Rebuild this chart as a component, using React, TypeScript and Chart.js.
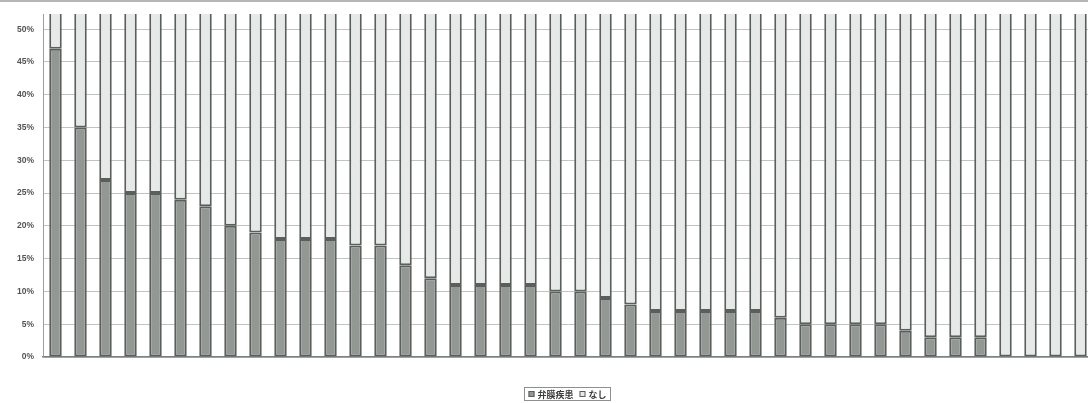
import { useEffect, useRef } from 'react';
import { Chart, registerables } from 'chart.js';

Chart.register(...registerables);

const categories = [
  '1', '2', '3', '4', '5', '6', '7', '8', '9', '10',
  '11', '12', '13', '14', '15', '16', '17', '18', '19', '20',
  '21', '22', '23', '24', '25', '26', '27', '28', '29', '30',
  '31', '32', '33', '34', '35', '36', '37', '38', '39', '40',
  '41', '42',
];

const valveDisease = [
  47, 35, 27, 25, 25, 24, 23, 20, 19, 18,
  18, 18, 17, 17, 14, 12, 11, 11, 11, 11,
  10, 10, 9, 8, 7, 7, 7, 7, 7, 6,
  5, 5, 5, 5, 4, 3, 3, 3, 0, 0,
  0, 0,
];

const noneValues = [
  53, 65, 73, 75, 75, 76, 77, 80, 81, 82,
  82, 82, 83, 83, 86, 88, 89, 89, 89, 89,
  90, 90, 91, 92, 93, 93, 93, 93, 93, 94,
  95, 95, 95, 95, 96, 97, 97, 97, 100, 100,
  100, 100,
];

const seriesLabels = ['弁膜疾患', 'なし'];
const yTickValues = [0, 5, 10, 15, 20, 25, 30, 35, 40, 45, 50];

const COLOR_LOW = '#939895';
const COLOR_HIGH = '#e6e9e7';
const COLOR_BORDER = '#5a5f5c';

const framePlugin = {
  id: 'frameLine',
  beforeDraw(chart: any) {
    const ctx = chart.ctx;
    ctx.save();
    ctx.fillStyle = '#ffffff';
    ctx.fillRect(0, 0, chart.width, chart.height);
    ctx.strokeStyle = '#b3b6b4';
    ctx.lineWidth = 2;
    ctx.beginPath();
    ctx.moveTo(0, 1);
    ctx.lineTo(chart.width, 1);
    ctx.stroke();
    ctx.restore();
  },
};

const legendBoxPlugin = {
  id: 'legendBox',
  afterDraw(chart: any) {
    const ctx = chart.ctx;
    const ds = chart.data.datasets;
    ctx.save();
    ctx.font = 'bold 9px "Noto Sans CJK JP", sans-serif';
    const box = 6;
    const gap = 3;
    const itemGap = 6;
    const pad = 4;
    const widths = ds.map((d: any) => box + gap + ctx.measureText(d.label).width);
    const inner = widths.reduce((a: number, b: number) => a + b, 0) + itemGap * (ds.length - 1);
    const total = inner + pad * 2;
    const cx = (chart.chartArea.left + chart.chartArea.right) / 2 - 1;
    const left = Math.round(cx - total / 2) + 0.5;
    const top = 387.5;
    const h = 13;
    ctx.strokeStyle = '#8c908e';
    ctx.lineWidth = 1;
    ctx.strokeRect(left, top, total, h);
    let x = left + pad;
    const midY = top + h / 2;
    ds.forEach((d: any, i: number) => {
      ctx.fillStyle = d.backgroundColor;
      ctx.fillRect(x, midY - box / 2, box, box);
      ctx.strokeStyle = COLOR_BORDER;
      ctx.strokeRect(x + 0.5, midY - box / 2 + 0.5, box - 1, box - 1);
      ctx.fillStyle = '#3a3d3b';
      ctx.textBaseline = 'middle';
      ctx.textAlign = 'left';
      ctx.fillText(d.label, x + box + gap, midY + 0.5);
      x += widths[i] + itemGap;
    });
    ctx.restore();
  },
};

export default function App() {
  const canvasRef = useRef<HTMLCanvasElement | null>(null);

  useEffect(() => {
    const canvas = canvasRef.current;
    if (!canvas) return;
    const chart = new Chart(canvas, {
      type: 'bar',
      data: {
        labels: categories,
        datasets: [
          {
            label: seriesLabels[0],
            data: valveDisease,
            backgroundColor: COLOR_LOW,
            borderColor: COLOR_BORDER,
            borderWidth: 2,
            borderSkipped: false,
            barPercentage: 0.5,
            categoryPercentage: 1,
          },
          {
            label: seriesLabels[1],
            data: noneValues,
            backgroundColor: COLOR_HIGH,
            borderColor: COLOR_BORDER,
            borderWidth: 2,
            borderSkipped: false,
            barPercentage: 0.5,
            categoryPercentage: 1,
          },
        ],
      },
      options: {
        responsive: false,
        animation: false,
        devicePixelRatio: 1,
        layout: { padding: { top: 14, right: 7, bottom: 46, left: 0 } },
        plugins: {
          legend: { display: false },
          tooltip: { enabled: false },
        },
        scales: {
          x: {
            stacked: true,
            grid: { display: false, drawTicks: false },
            border: { display: true, color: '#7d827f', width: 1.5 },
            ticks: { display: false },
            afterFit: (axis: any) => {
              axis.height = 0;
            },
          },
          y: {
            stacked: true,
            min: 0,
            max: 52.3,
            afterBuildTicks: (axis: any) => {
              axis.ticks = yTickValues.map((v) => ({ value: v }));
            },
            afterFit: (axis: any) => {
              axis.width = 43;
            },
            grid: { color: '#bfc3c1', lineWidth: 1, drawTicks: false },
            border: { display: true, color: '#9a9e9c', width: 1 },
            ticks: {
              padding: 9,
              color: '#505452',
              font: { family: '"Liberation Sans", Arial, sans-serif', size: 8.5, weight: 'bold' },
              callback: (v: any) => `${v}%`,
            },
          },
        },
      },
      plugins: [framePlugin, legendBoxPlugin],
    });
    return () => chart.destroy();
  }, []);

  return (
    <div style={{ position: 'fixed', left: 0, top: 0, width: 1088, height: 403, overflow: 'hidden', background: '#fff' }}>
      <canvas ref={canvasRef} width={1100} height={403} style={{ display: 'block', width: 1100, height: 403 }} />
    </div>
  );
}
